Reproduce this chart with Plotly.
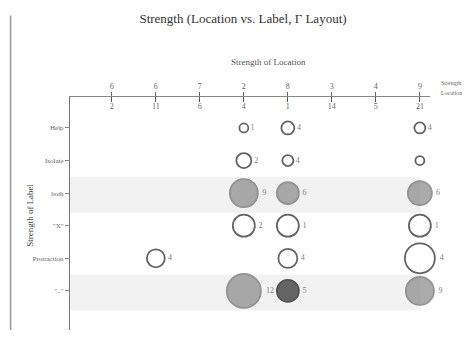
import plotly.graph_objects as go

# ---- data ----
columns = [1, 2, 3, 4, 5, 6, 7, 8]
strength_top = ["6", "6", "7", "2", "8", "3", "4", "9"]
location_bottom = ["2", "11", "6", "4", "1", "14", "5", "21"]
row_labels = ["Help", "Isolate", "both", "\"X\"", "Protraction", "\"..\""]

pt_col = [4, 5, 8, 4, 5, 8, 4, 5, 8, 4, 5, 8, 2, 5, 8, 4, 5, 8]
pt_row = [0, 0, 0, 1, 1, 1, 2, 2, 2, 3, 3, 3, 4, 4, 4, 5, 5, 5]
pt_size = [9, 13, 11, 15, 11, 9, 28, 22, 24, 22, 22, 22, 18, 19, 30, 34, 22, 28]
pt_kind = ["open", "open", "open", "open", "open", "open",
           "gray", "gray", "gray", "open", "open", "open",
           "open", "open", "open", "gray", "dark", "gray"]
pt_text = ["1", "4", "4", "2", "4", "", "9", "6", "6", "2", "1", "1",
           "4", "4", "4", "12", "5", "9"]
shaded_rows = [2, 5]

# ---- styles ----
fill_of = {"open": "white", "gray": "#888888", "dark": "#2a2a2a"}
line_of = {"open": "#222222", "gray": "#6a6a6a", "dark": "#111111"}
FONT = "Liberation Serif"
GREY = "#666666"

fig = go.Figure()

fig.add_trace(go.Scatter(
    x=pt_col, y=pt_row, mode="markers+text",
    text=pt_text, textposition="middle right",
    textfont=dict(family=FONT, size=8, color="#808080"),
    marker=dict(size=pt_size,
                color=[fill_of[k] for k in pt_kind],
                line=dict(color=[line_of[k] for k in pt_kind], width=1.8)),
    cliponaxis=False, showlegend=False, hoverinfo="skip"))

# invisible trace carrying the lower tick row
fig.add_trace(go.Scatter(x=[columns[0]], y=[0], xaxis="x2", mode="markers",
                         marker=dict(opacity=0), showlegend=False, hoverinfo="skip"))

for r in shaded_rows:
    fig.add_shape(type="rect", xref="paper", yref="y", x0=0.0, x1=0.975,
                  y0=r - 0.5, y1=r + 0.6, fillcolor="#f2f2f2", line_width=0,
                  layer="below")

# scan border line at left
fig.add_shape(type="line", xref="paper", yref="paper", x0=-0.165, x1=-0.165,
              y0=0.0, y1=1.35, line=dict(color="#999999", width=1.5))

xr = [0.05, 8.23]
fig.update_layout(
    width=470, height=337,
    margin=dict(l=62, r=48, t=89, b=15),
    paper_bgcolor="white", plot_bgcolor="white",
    title=dict(text="Strength (Location vs. Label, Γ Layout)", x=0.5, xanchor="center",
               y=0.97, yanchor="middle",
               font=dict(family=FONT, size=13, color="#333333")),
    xaxis=dict(side="top", range=xr, tickvals=columns, ticktext=strength_top,
               ticks="outside", ticklen=4, tickcolor=GREY, automargin=False,
               showline=True, linecolor="#888888", linewidth=1, mirror=False,
               showgrid=False, zeroline=False,
               tickfont=dict(family=FONT, size=8, color=GREY)),
    xaxis2=dict(side="top", overlaying="x", range=xr, tickvals=columns,
                ticktext=location_bottom, ticks="inside", ticklen=5,
                tickcolor="#555555", ticklabelposition="inside", automargin=False,
                showline=False, showgrid=False, zeroline=False,
                tickfont=dict(family=FONT, size=8, color=GREY)),
    yaxis=dict(range=[6.2, -0.95], tickvals=list(range(len(row_labels))),
               ticktext=row_labels, ticks="outside", ticklen=4, tickcolor="#888888",
               showline=True, linecolor="#777777", linewidth=1, automargin=False,
               showgrid=False, zeroline=False,
               tickfont=dict(family=FONT, size=7, color=GREY)),
)

fig.add_annotation(xref="paper", yref="paper", x=0.55, y=1.15, yanchor="middle",
                   text="Strength of Location", showarrow=False,
                   font=dict(family=FONT, size=9, color="#555555"))
fig.add_annotation(xref="paper", yref="paper", x=-0.111, y=0.49, xanchor="center",
                   text="Strength of Label", showarrow=False, textangle=-90,
                   font=dict(family=FONT, size=9, color="#444444"))
fig.add_annotation(xref="paper", yref="paper", x=1.025, y=1.08, xanchor="left",
                   text="Strength", showarrow=False,
                   font=dict(family=FONT, size=6, color=GREY))
fig.add_annotation(xref="paper", yref="paper", x=1.025, y=1.04, xanchor="left",
                   text="Location", showarrow=False,
                   font=dict(family=FONT, size=6, color=GREY))

fig.write_html("out.html")
